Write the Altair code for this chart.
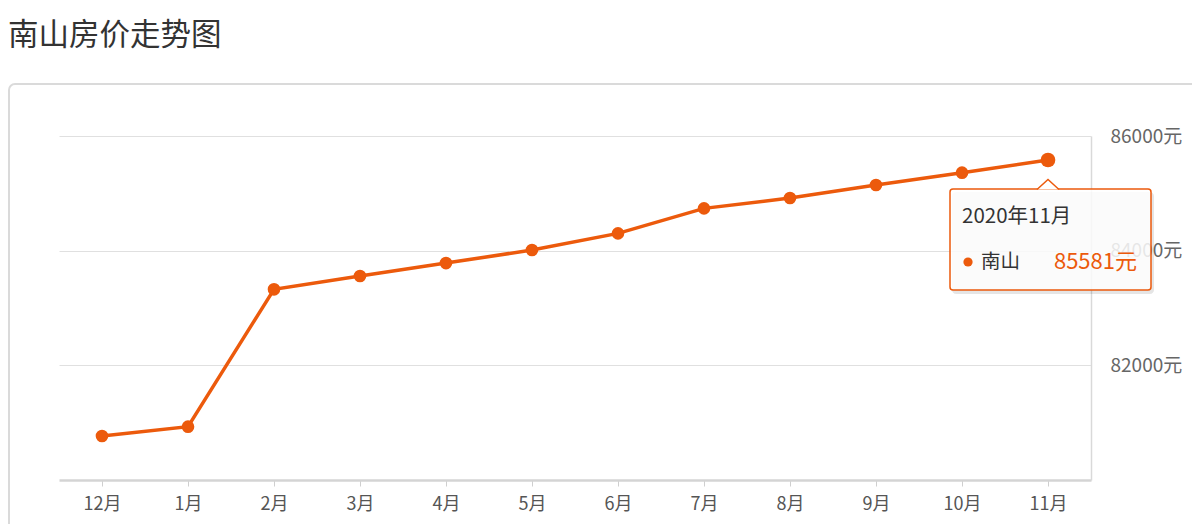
import altair as alt
import pandas as pd

title_text = "南山房价走势图"
months = ["12月", "1月", "2月", "3月", "4月", "5月", "6月", "7月", "8月", "9月", "10月", "11月"]
prices = [80767, 80930, 83326, 83558, 83784, 84011, 84302, 84738, 84918, 85145, 85360, 85581]
y_ticks = [82000, 84000, 86000]
tip_month = "2020年11月"
tip_name = "南山"

ORANGE = "#ec5a0c"
FONT = "Noto Sans CJK SC"

df = pd.DataFrame({"month": months, "price": prices})
last = df.tail(1).assign(label=lambda d: d["price"].astype(str) + "元")
one = pd.DataFrame({"k": [0]})

x_enc = alt.X("month:N", sort=months, scale=alt.Scale(type="point", padding=0.5),
              axis=alt.Axis(title=None, labelAngle=0, domainColor="#d4d4d4", domainWidth=2.5,
                            tickColor="#cfcfcf", tickSize=6, tickWidth=1, labelFontSize=18,
                            labelColor="#555555", labelPadding=9, labelFont=FONT, grid=False))
y_enc = alt.Y("price:Q", scale=alt.Scale(domain=[80000, 86000], nice=False, zero=False),
              axis=alt.Axis(title=None, orient="right", values=y_ticks, grid=True, gridColor="#e0e0e0",
                            gridWidth=1, domain=True, domainColor="#d9d9d9", domainWidth=1.5,
                            ticks=False, labelPadding=19, labelFontSize=19, labelColor="#666666",
                            labelFont=FONT, labelExpr="format(datum.value, 'd') + '元'"))

panel = alt.Chart(one).mark_rect(fill="white", fillOpacity=0, stroke="#dadada", strokeWidth=2,
                                 cornerRadius=6).encode(
    x=alt.value(-50), x2=alt.value(1200), y=alt.value(-52), y2=alt.value(500))

title = alt.Chart(one).mark_text(text=title_text, font=FONT, fontSize=30.5, color="#333333",
                                 align="left", baseline="middle").encode(
    x=alt.value(-51), y=alt.value(-100))

line = alt.Chart(df).mark_line(color=ORANGE, strokeWidth=3.5).encode(x=x_enc, y=y_enc)
pts = alt.Chart(df).mark_point(filled=True, color=ORANGE, size=160, opacity=1).encode(x=x_enc, y=y_enc)
last_pt = alt.Chart(last).mark_point(filled=True, color=ORANGE, size=215, opacity=1).encode(x=x_enc, y=y_enc)

shadow = alt.Chart(one).mark_rect(fill="#000000", fillOpacity=0.10, cornerRadius=4).encode(
    x=alt.value(893), x2=alt.value(1095), y=alt.value(56), y2=alt.value(158))
box = alt.Chart(one).mark_rect(fill="white", fillOpacity=0.85, stroke=ORANGE, strokeWidth=1.5,
                               cornerRadius=3).encode(
    x=alt.value(891), x2=alt.value(1092), y=alt.value(53), y2=alt.value(154))
notch = alt.Chart(one).mark_point(shape="M -1 0.45 L 0 -0.45 L 1 0.45", filled=True, fill="white",
                                  stroke=ORANGE, strokeWidth=1.5, size=484, opacity=1,
                                  fillOpacity=1).encode(x=alt.value(989), y=alt.value(48.5))
tip_title = alt.Chart(one).mark_text(text=tip_month, font=FONT, fontSize=20.5, color="#333333",
                                     align="left", baseline="middle").encode(
    x=alt.value(903), y=alt.value(81))
tip_dot = alt.Chart(one).mark_point(filled=True, color=ORANGE, size=85, opacity=1, shape="circle").encode(
    x=alt.value(909), y=alt.value(126))
tip_name_t = alt.Chart(one).mark_text(text=tip_name, font=FONT, fontSize=19.5, color="#333333",
                                      align="left", baseline="middle").encode(
    x=alt.value(922), y=alt.value(126))
tip_val = alt.Chart(last).mark_text(font=FONT, fontSize=22, color=ORANGE, align="right",
                                    baseline="middle").encode(
    text="label:N", x=alt.value(1078), y=alt.value(126))

chart = alt.layer(panel, title, line, pts, last_pt, shadow, box, notch, tip_title, tip_dot,
                  tip_name_t, tip_val).properties(
    width=1032, height=344,
    background="white",
    autosize=alt.AutoSizeParams(type="none"),
    padding={"left": 51, "top": 128, "right": 101, "bottom": 44},
).configure_view(strokeWidth=0, stroke="transparent")

chart.save("out.html", embed_options={"renderer": "svg", "actions": False})
